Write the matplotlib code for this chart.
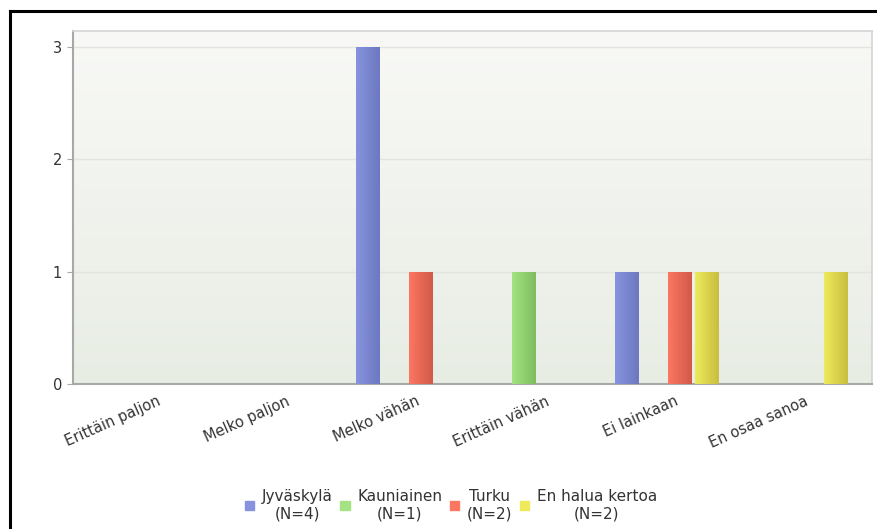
import numpy as np
import matplotlib
matplotlib.use("Agg")
import matplotlib.pyplot as plt
from matplotlib.lines import Line2D
from matplotlib.colors import LinearSegmentedColormap
import matplotlib.transforms as mtransforms

# datos
categorias = ["Erittäin paljon", "Melko paljon", "Melko vähän",
              "Erittäin vähän", "Ei lainkaan", "En osaa sanoa"]
series = ["Jyväskylä\n(N=4)", "Kauniainen\n(N=1)", "Turku\n(N=2)", "En halua kertoa\n(N=2)"]
jyvaskyla = [0, 0, 3, 0, 1, 0]
kauniainen = [0, 0, 0, 1, 0, 0]
turku = [0, 0, 1, 0, 1, 0]
en_halua = [0, 0, 0, 0, 1, 1]
valores = [jyvaskyla, kauniainen, turku, en_halua]
# color claro (izq) y oscuro (der) de cada serie
colores = [("#8793de", "#6c79c0"), ("#a5e281", "#7dbd60"),
           ("#fb7762", "#d25948"), ("#eeea5c", "#c8be3f")]

plt.rcParams['font.family'] = ['DejaVu Sans']
fig = plt.figure(figsize=(8.78, 5.29), dpi=100)
ax = fig.add_axes([73/878, 1-384/529, 799/878, 353/529])

# fondo con degradado
grad = np.linspace(0, 1, 256).reshape(-1, 1)
cmap_bg = LinearSegmentedColormap.from_list("bg", ["#e8ede4", "#f8f9f6"])
ax.imshow(grad, cmap=cmap_bg, aspect="auto", extent=[0, 1, 0, 1],
          transform=ax.transAxes, origin="lower", zorder=0)

x = np.arange(len(categorias))
paso = 0.2046
ancho = 0.185
hgrad = np.linspace(0, 1, 64).reshape(1, -1)
for i, (vals, (c1, c2)) in enumerate(zip(valores, colores)):
    pos = x + (i - 1.5) * paso
    barras = ax.bar(pos, vals, width=ancho, color=c1, edgecolor="none", zorder=2)
    cm = LinearSegmentedColormap.from_list("b%d" % i, [c1, c2])
    for b in barras:
        if b.get_height() <= 0:
            continue
        im = ax.imshow(hgrad, cmap=cm, aspect="auto",
                       extent=[b.get_x(), b.get_x() + b.get_width(), 0, b.get_height()],
                       zorder=3)
        im.set_clip_path(b)

ax.set_xlim(-0.585, 5.585)
ax.set_ylim(0, 3.142)
ax.set_yticks([0, 1, 2, 3])
ax.yaxis.grid(True, color="#e2e4df", linewidth=1)
ax.set_axisbelow(True)
ax.tick_params(axis="y", length=4, color="#aaaaaa", labelcolor="#333333",
               labelsize=10.5, pad=4)
ax.tick_params(axis="x", length=0, labelcolor="#333333", labelsize=10.5, pad=7)
ax.set_xticks(x)
ax.set_xticklabels(categorias, rotation=24, ha="right", rotation_mode="anchor")
desp = mtransforms.ScaledTranslation(8/100, 0, fig.dpi_scale_trans)
for t in ax.get_xticklabels():
    t.set_transform(t.get_transform() + desp)

for lado in ["left", "bottom"]:
    ax.spines[lado].set_color("#a8a8a8")
    ax.spines[lado].set_linewidth(1.5)
for lado in ["top", "right"]:
    ax.spines[lado].set_color("#d4d4d4")
    ax.spines[lado].set_linewidth(1.2)

# leyenda
handles = [plt.Rectangle((0, 0), 1, 1, color=c1) for c1, c2 in colores]
leg = fig.legend(handles, series, loc="center", bbox_to_anchor=(451/878, 1-505/529),
                 ncol=4, frameon=False, fontsize=11, handlelength=0.6,
                 handleheight=0.6, handletextpad=0.5, columnspacing=0.5)
for t in leg.get_texts():
    t.set_multialignment("center")
    t.set_color("#333333")

# marco negro
fig.add_artist(Line2D([10/878, 1], [1-11/529, 1-11/529], color="black", linewidth=2.2))
fig.add_artist(Line2D([10/878, 10/878], [0, 1-11/529], color="black", linewidth=2.2))

plt.savefig("out.png", dpi=100)
